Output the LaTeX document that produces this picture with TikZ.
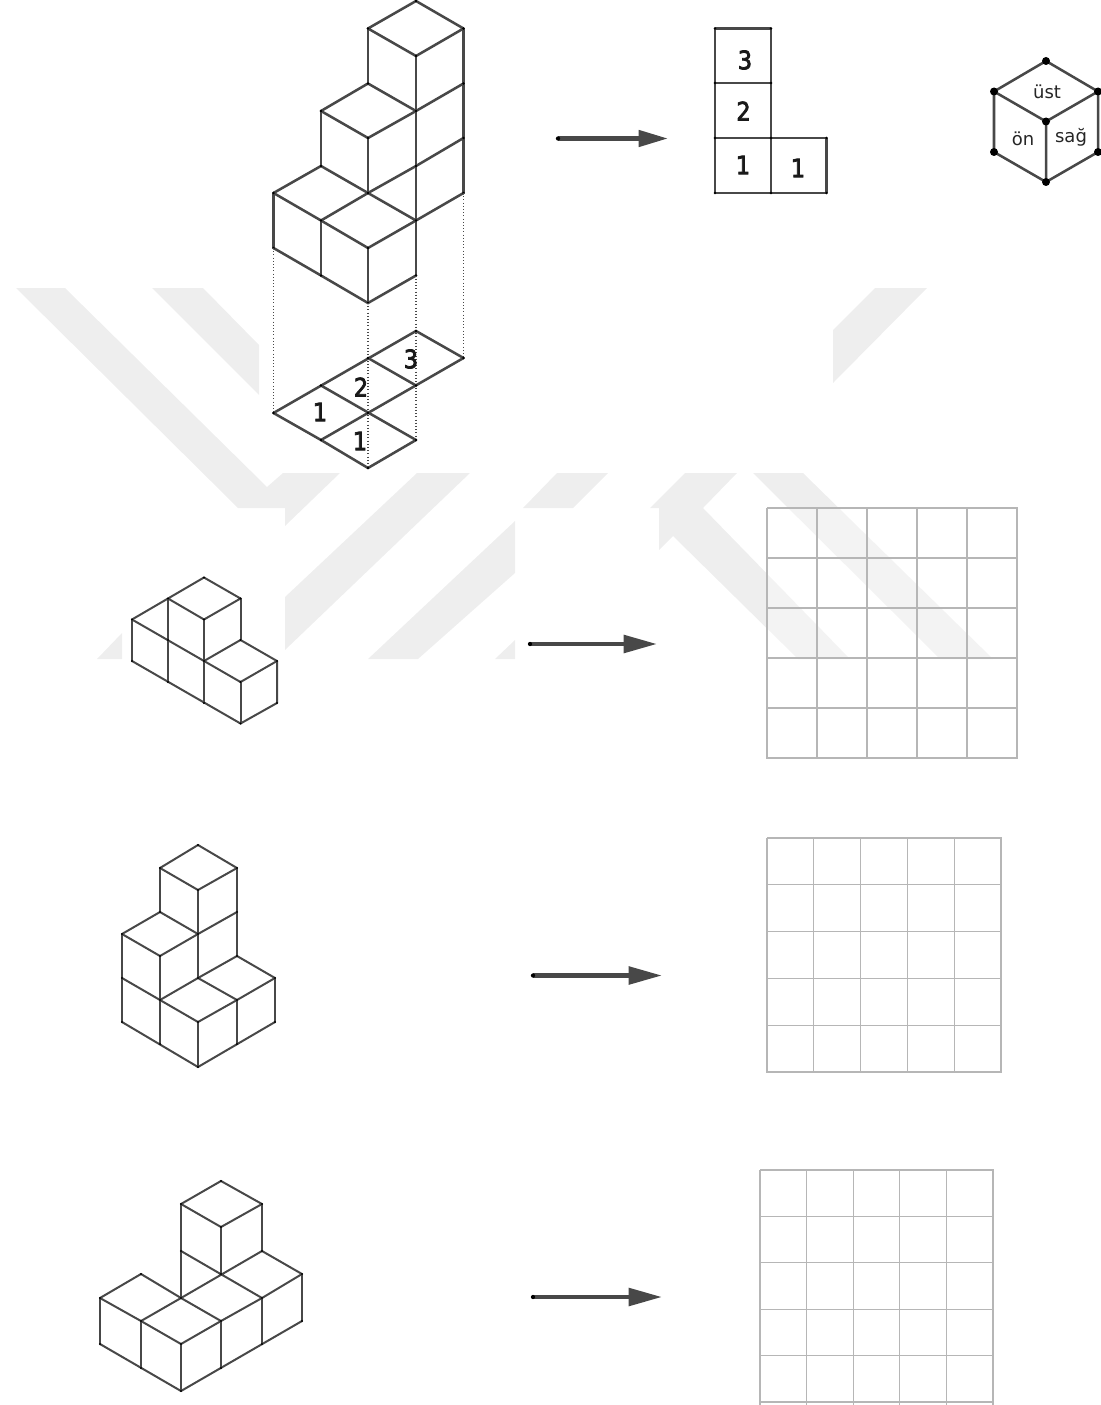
\documentclass[tikz,border=0pt]{standalone}
\usepackage{fontspec}
\usetikzlibrary{arrows.meta}
\newfontfamily\digitfont{DejaVu Sans}[FakeStretch=0.88,FakeBold=3]
\newfontfamily\facefont{DejaVu Sans}
\definecolor{wm}{HTML}{EEEEEE}
\definecolor{ink}{HTML}{484848}
\definecolor{gridc}{HTML}{B6B6B6}
\tikzset{
  wmark/.style={fill=wm,draw=none},
  bigline/.style={draw=ink,line width=1.9pt,line join=round,line cap=round},
  smallline/.style={draw=ink,line width=1.5pt,line join=round,line cap=round},
  proj/.style={draw=ink,line width=0.8pt,dash pattern=on 0.8pt off 1.6pt},
  gridline/.style={draw=gridc,line width=0.9pt},
  arrowone/.style={draw=ink,line width=3.4pt,-{Triangle[length=22pt,width=12pt]}},
  arrowline/.style={draw=ink,line width=3.4pt,-{Triangle[length=25pt,width=13pt]}},
  digit/.style={font=\digitfont\fontsize{19}{19}\selectfont,text=black!90,inner sep=0pt},
  face/.style={font=\facefont\fontsize{13.5}{14}\selectfont,text=black!85,inner sep=0pt},
}
\newcommand{\vtxdots}[2][1.1pt]{\foreach \p in {#2} \fill[black] \p circle[radius=#1];}
\begin{document}
\begin{tikzpicture}[x=0.75pt,y=-0.75pt]
\useasboundingbox (0,0) rectangle (1100,1405);
% watermark
\fill[wmark] (16,288)--(65,288)--(267,487)--(283,473)--(340,473)--(285,526)--(285,508)--(238,508)--cycle;
\fill[wmark] (97,659)--(122,633)--(122,659)--cycle;
\fill[wmark] (152,288)--(203,288)--(259,345)--(259,395)--cycle;
\fill[wmark] (417,473)--(470,473)--(285,650)--(285,597)--cycle;
\fill[wmark] (557,473)--(608,473)--(573,508)--(523,508)--cycle;
\fill[wmark] (368,659)--(418,659)--(515,573)--(515,521)--cycle;
\fill[wmark] (495,659)--(515,640)--(515,659)--cycle;
\fill[wmark] (685,473)--(737,473)--(703,508)--(850,659)--(798,659)--(673,536)--(659,550)--(659,508)--(650,508)--cycle;
\fill[wmark] (753,473)--(803,473)--(993,659)--(940,659)--cycle;
\fill[wmark] (875,288)--(927,288)--(833,383)--(833,330)--cycle;
\fill[white,opacity=0.35] (767,508) rectangle (1017,660);

% large stack
\draw[bigline] (368,28.5)--(416,1)--(463.5,28.5)--(416,56)--cycle;
\draw[bigline] (368,28.5)--(368,83.5) (416,56)--(416,275.5) (463.5,28.5)--(463.5,193);
\draw[bigline] (368,83.5)--(321,111)--(368,138)--(416,111)--cycle (416,111)--(463.5,83.5);
\draw[bigline] (321,111)--(321,166) (368,138)--(368,193);
\draw[bigline] (321,166)--(273.5,193)--(321,220.5)--(368,193)--cycle;
\draw[bigline] (368,193)--(416,220.5)--(368,248)--(321,220.5);
\draw[bigline] (368,193)--(416,166)--(463.5,138) (416,220.5)--(463.5,193);
\draw[bigline] (273.5,193)--(273.5,248)--(321,275.5)--(368,303)--(416,275.5);
\draw[bigline] (321,220.5)--(321,275.5) (368,248)--(368,303);
\vtxdots{(416,1),(368,28.5),(463.5,28.5),(416,56),(368,83.5),(463.5,83.5),(321,111),(416,111),(368,138),(463.5,138),(321,166),(416,166),(273.5,193),(368,193),(463.5,193),(321,220.5),(416,220.5),(273.5,248),(368,248),(321,275.5),(416,275.5),(368,303)}

% projection
\draw[proj] (273.5,248)--(273.5,413) (368,303)--(368,468) (416,275.5)--(416,440) (463.5,193)--(463.5,358);
\draw[bigline] (273.5,413)--(416,331)--(463.5,358)--(321,440)--cycle;
\draw[bigline] (321,385.5)--(416,440)--(368,468)--(321,440) (368,358)--(416,385.5);
\vtxdots{(416,331),(368,358),(463.5,358),(321,385.5),(416,385.5),(273.5,413),(368,413),(321,440),(416,440),(368,468)}
\node[digit] (n3) at (411,359) {3};
\node[digit] (n2) at (361,387) {2};
\node[digit] (n1a) at (320,412) {1};
\node[digit] (n1b) at (360,441) {1};

% top view
\draw[bigline] (715,28.5)--(771,28.5)--(771,193)--(715,193)--cycle;
\draw[bigline] (715,83)--(771,83) (715,138)--(826.5,138)--(826.5,193)--(771,193);
\vtxdots{(715,28.5),(771,28.5),(715,83),(771,83),(715,138),(771,138),(826.5,138),(715,193),(771,193),(826.5,193)}
\node[digit] (t3) at (745,60) {3};
\node[digit] (t2) at (743.5,111) {2};
\node[digit] (t1a) at (743,165) {1};
\node[digit] (t1b) at (798,168) {1};

% legend cube
\draw[bigline] (994,91.5)--(1046,61)--(1098,91.5)--(1046,121.5)--cycle;
\draw[bigline] (994,91.5)--(994,152)--(1046,182)--(1098,152)--(1098,91.5) (1046,121.5)--(1046,182);
\vtxdots[3pt]{(1046,61),(994,91.5),(1098,91.5),(1046,121.5),(994,152),(1098,152),(1046,182)}
\node[face] (ust) at (1047,92) {üst};
\node[face] (on) at (1023,139) {ön};
\node[face] (sag) at (1071,137) {sağ};

% arrows
\coordinate (a1s) at (558,138.5); \coordinate (a1e) at (668,138.5);
\coordinate (a2s) at (530,644);   \coordinate (a2e) at (657,644);
\coordinate (a3s) at (533,975.5); \coordinate (a3e) at (662,975.5);
\coordinate (a4s) at (533,1297);  \coordinate (a4e) at (662,1297);
\draw[arrowone] (a1s)--(a1e);
\draw[arrowline] (a2s)--(a2e);
\draw[arrowline] (a3s)--(a3e);
\draw[arrowline] (a4s)--(a4e);
\vtxdots[1.6pt]{(a1s),(a2s),(a3s),(a4s)}

% figure 2
\draw[smallline] (132,619.5)--(204,577.5)--(240.5,598.5)--(204,619.5)--(168,598.5);
\draw[smallline] (132,619.5)--(240.5,682) (132,661)--(240.5,723.5)--(277,703)--(277,661);
\draw[smallline] (132,619.5)--(132,661) (168,598.5)--(168,682) (204,619.5)--(204,703) (240.5,682)--(240.5,723.5) (240.5,598.5)--(240.5,640);
\draw[smallline] (204,661)--(240.5,640)--(277,661)--(240.5,682);
\vtxdots[0.9pt]{(204,577.5),(168,598.5),(240.5,598.5),(132,619.5),(204,619.5),(168,640),(240.5,640),(132,661),(204,661),(277,661),(168,682),(240.5,682),(204,703),(277,703),(240.5,723.5)}

% figure 3
\draw[smallline] (160,868)--(198,845)--(237,868)--(198,890)--cycle;
\draw[smallline] (160,868)--(160,912) (198,890)--(198,978) (237,868)--(237,956);
\draw[smallline] (160,912)--(198,934)--(237,912);
\draw[smallline] (160,912)--(122,934)--(160,956)--(198,934);
\draw[smallline] (122,934)--(122,1022) (160,956)--(160,1044);
\draw[smallline] (122,978)--(198,1022)--(237,1000)--(198,978)--(160,1000);
\draw[smallline] (198,978)--(237,956)--(275,978)--(237,1000);
\draw[smallline] (275,978)--(275,1022) (237,1000)--(237,1044) (198,1022)--(198,1067);
\draw[smallline] (122,1022)--(198,1067)--(275,1022);
\vtxdots[0.9pt]{(198,845),(160,868),(237,868),(198,890),(160,912),(237,912),(122,934),(198,934),(160,956),(237,956),(122,978),(198,978),(275,978),(160,1000),(237,1000),(122,1022),(198,1022),(275,1022),(160,1044),(237,1044),(198,1067)}

% figure 4
\draw[smallline] (181,1204)--(221,1181)--(262,1204)--(221,1227)--cycle;
\draw[smallline] (181,1204)--(181,1298) (221,1227)--(221,1274) (262,1204)--(262,1251);
\draw[smallline] (181,1251)--(262,1298)--(302,1274)--(262,1251)--(181,1298);
\draw[smallline] (141,1274)--(100,1298)--(141,1321)--(181,1298)--cycle;
\draw[smallline] (181,1298)--(221,1321)--(262,1298) (141,1321)--(181,1344)--(221,1321);
\draw[smallline] (100,1298)--(100,1344) (141,1321)--(141,1368) (181,1344)--(181,1391) (221,1321)--(221,1368) (262,1298)--(262,1344) (302,1274)--(302,1321);
\draw[smallline] (100,1344)--(181,1391)--(302,1321);
\vtxdots[0.9pt]{(221,1181),(181,1204),(262,1204),(221,1227),(181,1251),(262,1251),(141,1274),(221,1274),(302,1274),(100,1298),(181,1298),(262,1298),(141,1321),(221,1321),(302,1321),(100,1344),(181,1344),(262,1344),(141,1368),(221,1368),(181,1391)}

% grids
\foreach \i in {0,...,5} {
  \draw[gridline] ({767+50*\i},508)--({767+50*\i},759);
  \draw[gridline] (767,{508+50*\i})--(1018,{508+50*\i});
  \draw[gridline] ({767+46.8*\i},838)--({767+46.8*\i},1073);
  \draw[gridline] (767,{838+46.8*\i})--(1002,{838+46.8*\i});
  \draw[gridline] ({760+46.6*\i},1170)--({760+46.6*\i},1405);
  \draw[gridline] (760,{1170+46.4*\i})--(994,{1170+46.4*\i});
}
\end{tikzpicture}
\end{document}
